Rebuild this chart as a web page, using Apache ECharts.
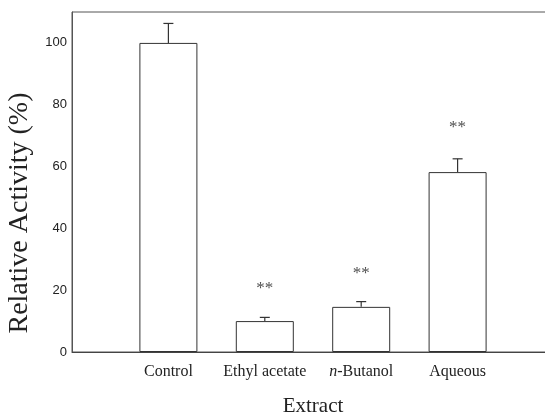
<!DOCTYPE html>
<html>
<head>
<meta charset="utf-8">
<script src="https://cdn.jsdelivr.net/npm/echarts@6/dist/echarts.min.js"></script>
<style>
html, body { margin: 0; padding: 0; background: #fff; }
#chartmain { width: 545px; height: 412px; }
</style>
</head>
<body>
<div id="chartmain"></div>
<script>
// data
var categories = ['', 'Control', 'Ethyl acetate', 'n-Butanol', 'Aqueous', ''];
var activity = [null, 100, 10, 14.6, 58.2, null];
var errors = [null, 6.3, 1.2, 1.7, 4.3, null];
var starY = [null, null, 20.6, 25.5, 72.6, null];

var errData = [];
var starData = [];
for (var i = 0; i < categories.length; i++) {
	if (activity[i] != null) errData.push([i, activity[i], activity[i] + errors[i]]);
	if (starY[i] != null) starData.push([i, starY[i]]);
}

var option = {
	animation: false,
	backgroundColor: '#fff',
	grid: {
		left: 72,
		right: -9,
		top: 12,
		bottom: 60,
		outerBoundsMode: 'none',
		containLabel: false,
		show: true,
		borderColor: '#555',
		borderWidth: 1
	},
	xAxis: {
		type: 'category',
		data: categories,
		boundaryGap: false,
		name: 'Extract',
		nameLocation: 'middle',
		nameGap: 44,
		nameTextStyle: { fontFamily: 'Liberation Serif', fontSize: 21, color: '#222' },
		axisLine: { lineStyle: { color: '#444' } },
		axisTick: { show: false },
		axisLabel: {
			interval: 0,
			hideOverlap: false,
			margin: 12,
			fontFamily: 'Liberation Serif',
			fontSize: 16,
			color: '#222',
			formatter: function (v) {
				if (v === 'n-Butanol') return '{i|n}-Butanol';
				return v;
			},
			rich: {
				i: { fontFamily: 'Liberation Serif', fontStyle: 'italic', fontSize: 16, color: '#222' }
			}
		}
	},
	yAxis: {
		type: 'value',
		min: 0,
		max: 110,
		interval: 20,
		name: 'Relative Activity (%)',
		nameLocation: 'middle',
		nameGap: 38,
		nameTextStyle: { fontFamily: 'Liberation Serif', fontSize: 28, color: '#222', padding: [0, 62, 0, 0] },
		axisLine: { show: true, lineStyle: { color: '#555' } },
		axisTick: { show: false },
		splitLine: { show: false },
		axisLabel: {
			margin: 5,
			showMaxLabel: false,
			fontFamily: 'Liberation Sans',
			fontSize: 13,
			color: '#222'
		}
	},
	series: [{
		type: 'bar',
		data: activity,
		barWidth: 58,
		itemStyle: { color: '#fff', borderColor: '#333', borderWidth: 1 }
	}, {
		type: 'custom',
		data: errData,
		z: 5,
		renderItem: function (params, api) {
			var x = api.value(0);
			var top = api.coord([x, api.value(2)]);
			var base = api.coord([x, api.value(1)]);
			var style = { stroke: '#333', lineWidth: 1.2 };
			return {
				type: 'group',
				children: [
					{ type: 'line', shape: { x1: base[0], y1: base[1], x2: top[0], y2: top[1] }, style: style },
					{ type: 'line', shape: { x1: top[0] - 5, y1: top[1], x2: top[0] + 5, y2: top[1] }, style: style }
				]
			};
		}
	}, {
		type: 'scatter',
		data: starData,
		symbolSize: 0,
		label: {
			show: true,
			position: 'inside',
			formatter: '**',
			fontFamily: 'Liberation Serif',
			fontSize: 17,
			color: '#222'
		}
	}]
};

var myChart = echarts.init(document.getElementById('chartmain'));
myChart.setOption(option);
</script>
</body>
</html>
